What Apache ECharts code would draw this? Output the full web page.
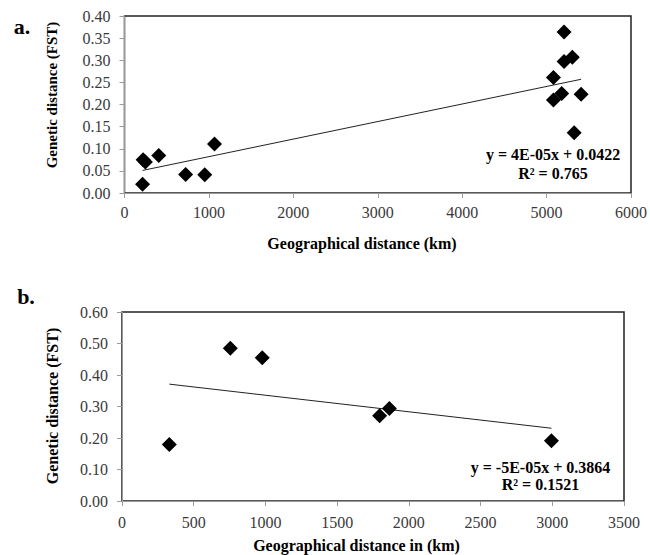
<!DOCTYPE html>
<html>
<head>
<meta charset="utf-8">
<script src="https://cdn.jsdelivr.net/npm/echarts@6/dist/echarts.min.js"></script>
<style>
  html, body { margin: 0; padding: 0; background: #fff; }
  #chart { width: 650px; height: 555px; }
</style>
</head>
<body>
<div id="chart"></div>
<script>
// ---- Data ----
const aDistance = [221, 247, 214, 406, 724, 951, 1066, 5207, 5207, 5305, 5081, 5179, 5081, 5409, 5327];
const aFst      = [0.075, 0.070, 0.020, 0.085, 0.042, 0.041, 0.111, 0.364, 0.297, 0.307, 0.261, 0.225, 0.210, 0.223, 0.136];
const aTrendX   = [214, 5409];
const aTrendY   = [0.051, 0.257];
const aEquation = ['y = 4E-05x + 0.0422', 'R² = 0.765'];

const bDistance = [330, 755, 978, 1796, 1864, 2994];
const bFst      = [0.179, 0.485, 0.455, 0.271, 0.294, 0.191];
const bTrendX   = [330, 2994];
const bTrendY   = [0.371, 0.231];
const bEquation = ['y = -5E-05x + 0.3864', 'R² = 0.1521'];

const pair = (xs, ys) => xs.map((x, i) => [x, ys[i]]);

const SERIF = '"Liberation Serif", "Times New Roman", serif';
const labelStyle = { color: '#3a3a3a', fontFamily: SERIF, fontSize: 16 };

function xAxis(gridIndex, max, interval, margin) {
  return {
    type: 'value', gridIndex, min: 0, max, interval,
    axisLine: { show: true, lineStyle: { color: '#9a9a9a', width: 1 } },
    axisTick: { show: true, inside: false, length: 5, lineStyle: { color: '#9a9a9a' } },
    splitLine: { show: false },
    axisLabel: Object.assign({ margin, formatter: v => String(v) }, labelStyle)
  };
}
function yAxis(gridIndex, max, interval) {
  return {
    type: 'value', gridIndex, min: 0, max, interval,
    axisLine: { show: true, lineStyle: { color: '#9a9a9a', width: 1 } },
    axisTick: { show: true, inside: false, length: 5, lineStyle: { color: '#9a9a9a' } },
    splitLine: { show: false },
    axisLabel: Object.assign({ margin: 14, formatter: v => v.toFixed(2) }, labelStyle)
  };
}

const scatterStyle = { color: '#000', opacity: 1 };
const trendStyle = { color: '#222', width: 1 };

function txt(x, y, text, size, opts) {
  return Object.assign({
    type: 'text', x, y,
    style: Object.assign({
      text, fill: '#000', font: 'bold ' + size + 'px ' + SERIF,
      align: 'center', verticalAlign: 'middle'
    }, (opts && opts.style) || {})
  }, opts && opts.rotation ? { rotation: opts.rotation } : {});
}

const option = {
  backgroundColor: '#fff',
  animation: false,
  grid: [
    { left: 124.5, top: 16, width: 509.5, height: 177, show: true, borderColor: '#222', borderWidth: 1.5, backgroundColor: 'transparent' },
    { left: 122, top: 312, width: 502, height: 189, show: true, borderColor: '#222', borderWidth: 1.5, backgroundColor: 'transparent' }
  ],
  xAxis: [ xAxis(0, 6000, 1000, 11), xAxis(1, 3500, 500, 13) ],
  yAxis: [ yAxis(0, 0.4, 0.05), yAxis(1, 0.6, 0.1) ],
  series: [
    { type: 'line', xAxisIndex: 0, yAxisIndex: 0, data: pair(aTrendX, aTrendY), symbol: 'none', lineStyle: trendStyle, z: 2 },
    { type: 'scatter', xAxisIndex: 0, yAxisIndex: 0, data: pair(aDistance, aFst), symbol: 'diamond', symbolSize: 15, itemStyle: scatterStyle, z: 3 },
    { type: 'line', xAxisIndex: 1, yAxisIndex: 1, data: pair(bTrendX, bTrendY), symbol: 'none', lineStyle: trendStyle, z: 2 },
    { type: 'scatter', xAxisIndex: 1, yAxisIndex: 1, data: pair(bDistance, bFst), symbol: 'diamond', symbolSize: 15, itemStyle: scatterStyle, z: 3 }
  ],
  graphic: [
    txt(22, 26, 'a.', 22),
    txt(26, 296, 'b.', 22),
    txt(52, 95, 'Genetic distance (FST)', 15, { rotation: Math.PI / 2 }),
    txt(52, 406, 'Genetic distance (FST)', 16, { rotation: Math.PI / 2 }),
    txt(362, 243, 'Geographical distance (km)', 16),
    txt(356.5, 545, 'Geographical distance in (km)', 16),
    txt(553, 154, aEquation[0], 16),
    txt(553, 173, aEquation[1], 16),
    txt(540.5, 467, bEquation[0], 16),
    txt(540.5, 484.5, bEquation[1], 16)
  ]
};

const chart = echarts.init(document.getElementById('chart'), null, { renderer: 'svg' });
chart.setOption(option);
</script>
</body>
</html>
